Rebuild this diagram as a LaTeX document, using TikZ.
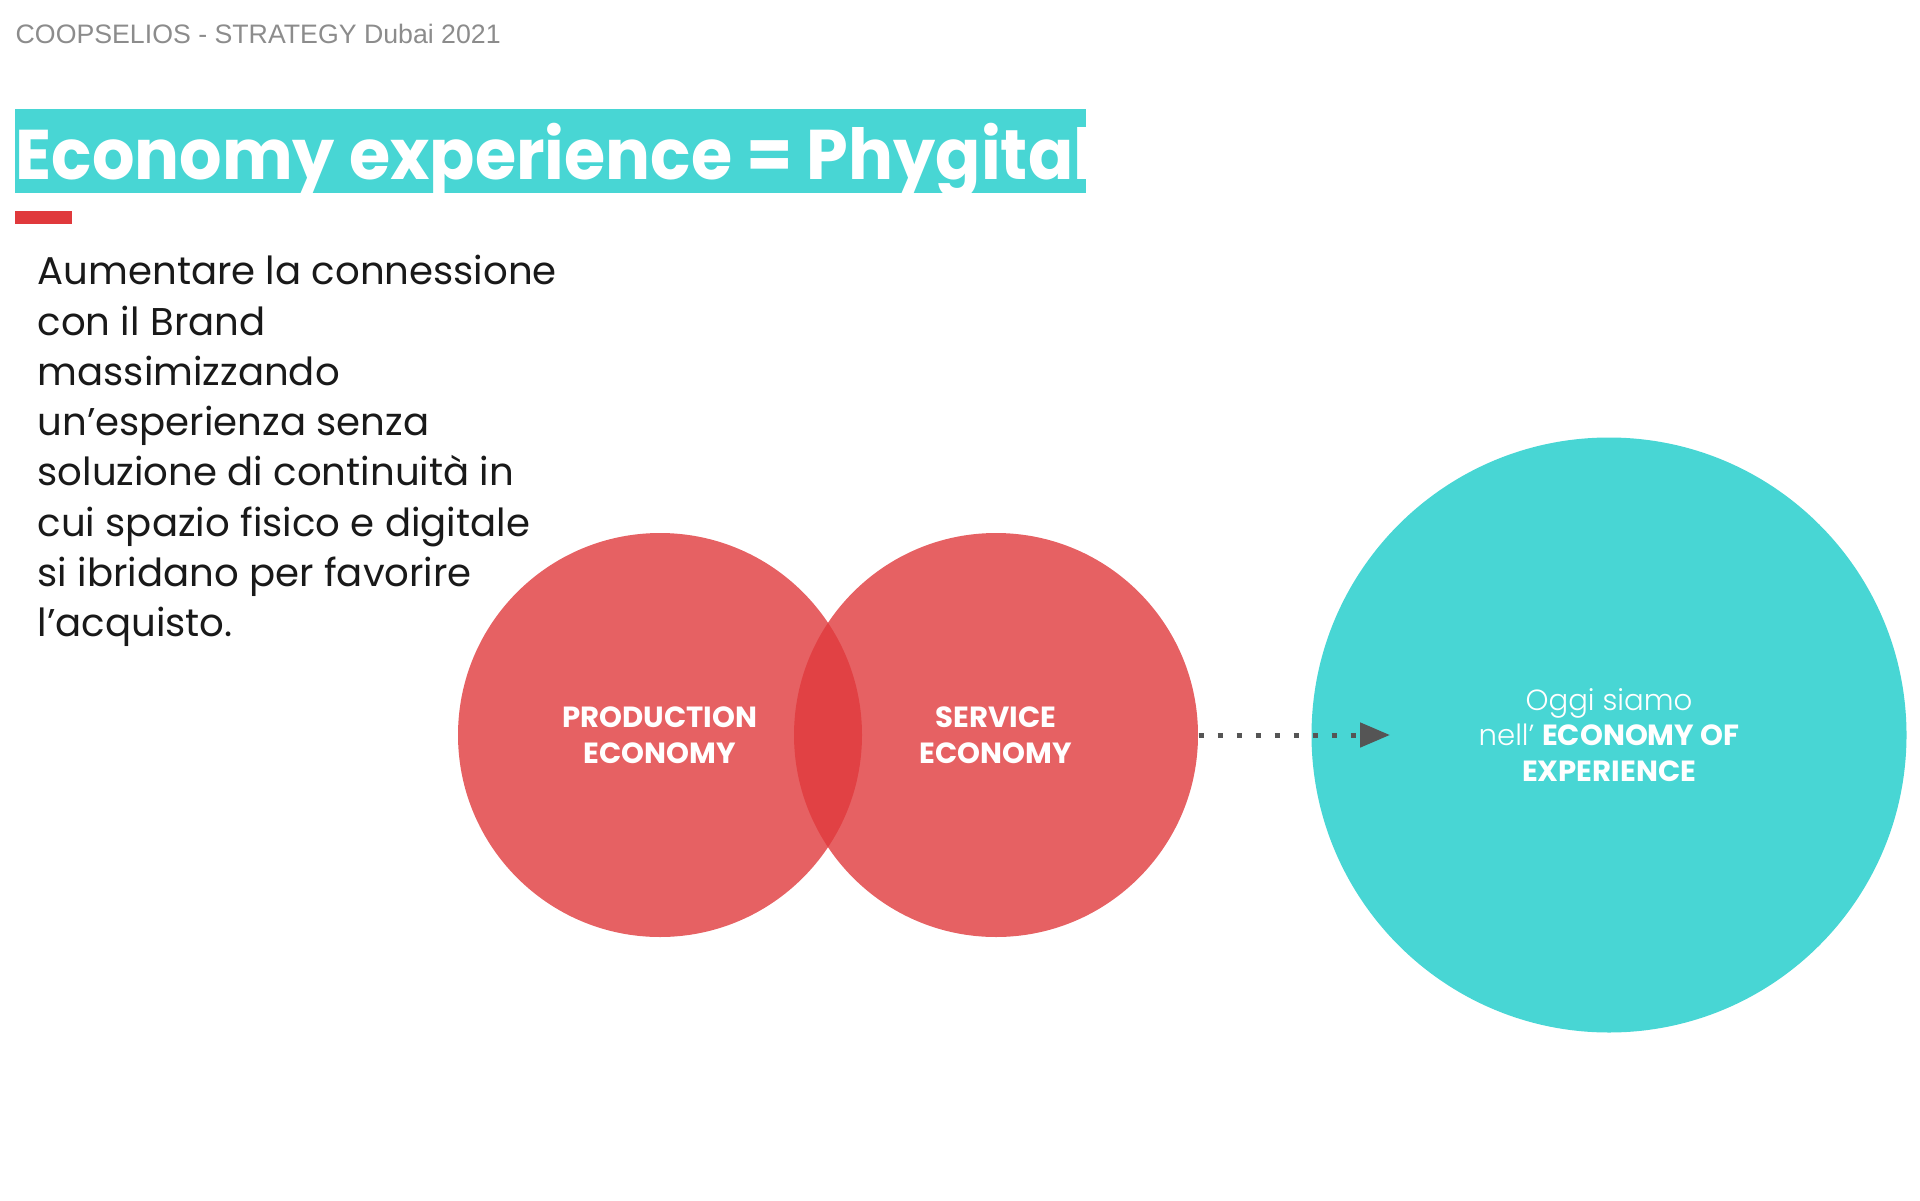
\documentclass[tikz,border=0pt]{standalone}
\usepackage{fontspec}
\setmainfont{Poppins}
\newfontfamily\hdrfont{Liberation Sans}
\newfontfamily\poplight{Poppins Light}
\usetikzlibrary{arrows.meta, positioning}
\definecolor{pcyan}{HTML}{48D6D4}
\definecolor{pred}{HTML}{E0393C}
\definecolor{pgray}{HTML}{8C8C8C}
\definecolor{pdark}{HTML}{555555}

\begin{document}
\begin{tikzpicture}[x=1cm, y=1cm,
  econ/.style={circle, inner sep=0pt, minimum size=4.04cm, fill=pred, fill opacity=0.8,
    text opacity=1, text=white, align=center, font=\fontsize{8.3}{10.1}\selectfont\bfseries},
  bodytxt/.style={font=\fontsize{11}{14.3}\selectfont, text=black!90, anchor=base west, inner sep=0pt}]

  \useasboundingbox (0,0) rectangle (19.2,12);

  %% Header
  \node[font=\hdrfont\fontsize{7.6}{9}\selectfont, text=pgray, anchor=base west, inner sep=0pt] (hdr)
    at (0.15,11.56) {COOPSELIOS - STRATEGY Dubai 2021};

  %% Title band
  \fill[pcyan] (0.15,10.07) rectangle (10.86,10.91);
  \node[font=\fontsize{20}{24}\selectfont\bfseries, text=white, anchor=base west, inner sep=0pt,
    xscale=0.95, transform shape] (title)
    at (0.15,10.20) {Economy experience = Phygital};
  \fill[pred] (0.15,9.76) rectangle (0.72,9.89);

  %% Body text
  \foreach \i/\txt in {0/{Aumentare la connessione}, 1/{con il Brand}, 2/{massimizzando},
      3/{un’esperienza senza}, 4/{soluzione di continuità in}, 5/{cui spazio fisico e digitale},
      6/{si ibridano per favorire}, 7/{l’acquisto.}}{
    \node[bodytxt] (body\i) at (0.37,{9.15-\i*0.502}) {\txt};
  }

  %% Economies
  \node[econ] (prod) at (6.60,4.65) {PRODUCTION\\ECONOMY};
  \node[econ] (serv) at (9.96,4.65) {SERVICE\\ECONOMY};
  \node[circle, inner sep=0pt, minimum size=5.95cm, fill=pcyan, text=white, align=center,
    font=\fontsize{8.3}{10.1}\selectfont] (exper) at (16.09,4.65)
    {{\poplight Oggi siamo}\\{\poplight nell’} \textbf{ECONOMY OF}\\\textbf{EXPERIENCE}};

  \coordinate (expin) at (13.90,4.65);
  \draw[pdark, line width=0.05cm, dash pattern=on 0.05cm off 0.14cm,
    -{Triangle[length=0.3cm, width=0.24cm]}] (serv.east) -- (expin);

\end{tikzpicture}
\end{document}
